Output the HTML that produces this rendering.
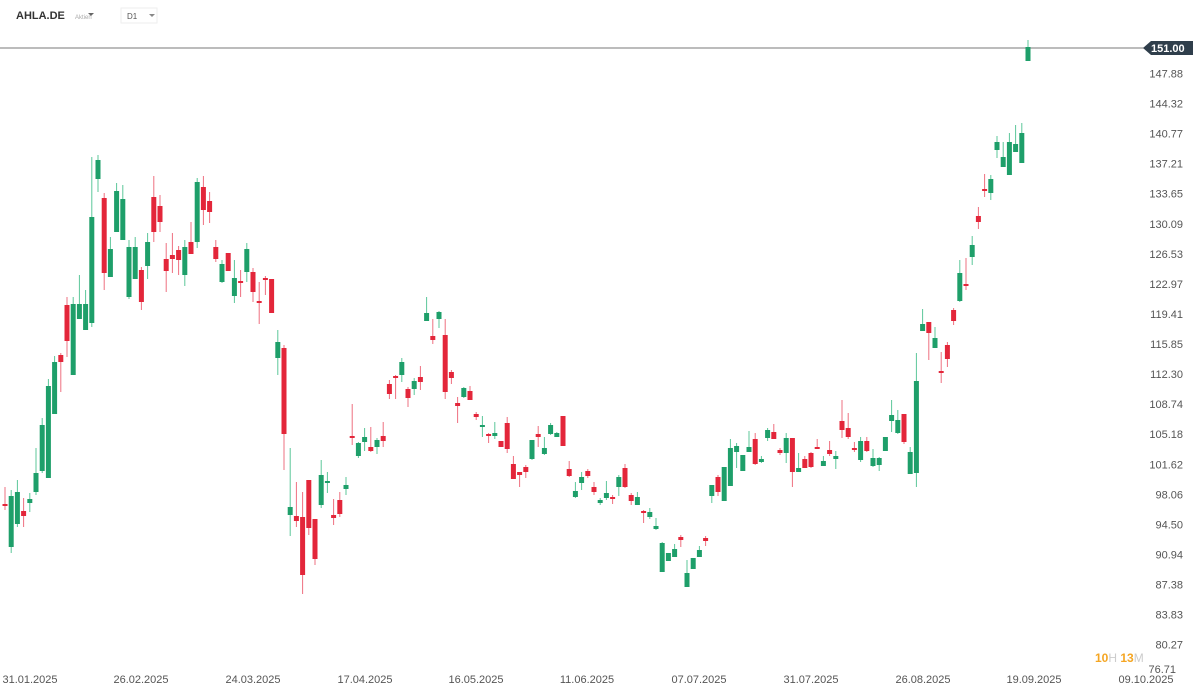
<!DOCTYPE html>
<html><head><meta charset="utf-8"><style>
body{margin:0;width:1199px;height:693px;background:#fff;overflow:hidden;font-family:"Liberation Sans",sans-serif}
svg{position:absolute;left:0;top:0}
</style></head><body>
<svg id="s" width="1199" height="693" xmlns="http://www.w3.org/2000/svg">
<text x="16" y="19" font-size="11" font-weight="bold" fill="#333">AHLA.DE</text>
<text x="75" y="19" font-size="6" fill="#aaa">Aktien</text>
<path d="M88 13l3 3 3-3z" fill="#666"/>
<rect x="121" y="8" width="36" height="15" fill="#fff" stroke="#eee"/>
<text x="127" y="19" font-size="8" fill="#555">D1</text>
<path d="M149 14l3 3 3-3z" fill="#888"/>
<line x1="0" y1="48" x2="1145" y2="48" stroke="#7a7a7a" stroke-width="1"/>
<g id="c"></g>
<path d="M1143 48l8-7h42v14h-42z" fill="#2f3e4b"/>
<text x="1151" y="52" font-size="11" fill="#fff" font-weight="bold">151.00</text>
<g font-size="11" fill="#555" text-anchor="end" id="yl"></g>
<g font-size="11" fill="#555" text-anchor="middle" id="xl"></g>
<text x="1095" y="662" font-size="12" font-weight="bold" fill="#f5a623">10<tspan fill="#ccc" font-weight="normal">H</tspan> 13<tspan fill="#ccc" font-weight="normal">M</tspan></text>
</svg>
<script>
var d=[
[0,504,506,487,510],[1,496,547,490,553,1],[1,492,524,480,527,1],[0,511,516,498,527],[1,499,503,493,512,1],[1,473,492,448,495,1],[1,425,471,418,473,1],[1,386,478,379,478,1],[1,362,414,356,414,1],[0,355,362,353,392],
[0,305,341,297,357],[1,304,375,297,375,1],[1,304,319,275,319,1],[1,304,330,290,330,1],[1,217,323,157,327,1],[1,160,179,155,192,1],[0,198,273,193,290],[1,249,277,237,277,1],[1,191,232,183,232,1],[1,199,240,185,240,1],
[1,247,297,240,299,1],[1,247,279,237,279,1],[0,270,302,267,310],[1,242,266,233,279,1],[0,197,232,176,242],[0,206,222,195,232],[0,259,271,243,292],[0,255,259,233,273],[0,250,260,246,275],[1,247,275,240,286,1],
[0,242,254,222,254],[1,182,242,178,248,1],[0,187,210,176,225],[0,201,212,192,223],[0,247,259,240,262],[1,264,282,260,283,1],[0,253,271,253,271],[1,278,296,260,303,1],[0,281,283,270,297],[1,249,272,243,282,1],
[0,272,292,268,302],[0,301,303,282,324],[0,278,279,276,295],[0,279,313,279,313],[1,342,358,330,375,1],[0,348,434,345,470],[1,507,515,448,536,1],[0,516,521,482,527],[0,517,575,492,594],[0,480,528,480,535],
[0,519,559,519,565],[1,475,505,460,508,1],[1,481,482,472,493,1],[0,515,518,499,525],[0,500,514,492,517],[1,485,489,477,495,1],[0,436,438,404,445],[1,443,456,442,458,1],[1,437,442,428,451,1],[0,447,451,427,452],
[1,440,447,438,454,1],[0,436,441,422,447],[0,384,394,380,399],[0,376,378,375,399],[1,362,375,358,382,1],[0,389,398,387,407],[1,381,389,378,395,1],[0,377,382,366,390],[1,313,321,297,321,1],[0,336,340,319,344],
[1,312,319,311,328,1],[0,335,392,319,399],[0,372,378,370,384],[0,403,406,397,423],[1,388,397,387,398,1],[0,391,400,386,400],[0,414,417,412,420],[1,425,427,416,437,1],[0,434,436,433,443],[1,433,436,422,439,1],
[0,441,447,441,447],[0,423,449,417,453],[0,464,479,456,479],[0,472,475,472,487],[0,467,472,465,478],[1,440,459,440,460,1],[0,434,437,426,447],[1,448,454,437,455,1],[1,425,434,423,435,1],[1,433,437,432,437,1],
[0,416,446,416,446],[0,469,476,461,477],[1,491,497,482,498,1],[1,477,483,472,490,1],[0,471,476,469,478],[0,487,492,482,495],[1,500,503,498,505,1],[1,493,498,481,500,1],[0,497,499,495,504],[1,477,487,475,496,1],
[0,468,487,464,488],[0,495,501,493,505],[1,497,505,492,505,1],[0,511,513,510,523],[1,512,517,508,519,1],[1,526,529,518,530,1],[1,543,572,542,572,1],[1,553,561,553,561,1],[1,549,557,544,557,1],[0,537,540,535,547],
[1,573,587,560,587,1],[1,558,569,558,569,1],[1,550,557,546,557,1],[0,538,541,536,546],[1,485,496,485,503,1],[0,477,492,475,496],[1,467,501,467,501,1],[1,448,486,439,486,1],[1,446,452,443,468,1],[1,455,471,455,471,1],
[1,447,452,431,452,1],[0,439,464,433,465],[1,459,462,456,463,1],[1,430,438,428,441,1],[0,432,439,424,439],[0,450,453,448,455],[1,438,453,433,463,1],[0,438,472,438,487],[1,468,472,453,472,1],[0,459,468,456,468],
[0,453,467,452,468],[0,447,449,439,449],[1,461,466,456,466,1],[0,450,454,441,456],[1,456,459,451,469,1],[0,421,430,400,438],[0,428,437,413,439],[0,448,450,442,452],[1,441,460,437,462,1],[0,441,451,437,452],
[1,458,466,449,467,1],[1,458,465,457,471,1],[1,437,451,437,451,1],[1,415,421,400,432,1],[1,420,433,410,434,1],[0,414,442,414,444],[1,452,474,447,474,1],[1,381,473,353,487,1],[1,324,331,309,331,1],[0,322,333,322,360],
[1,338,348,327,348,1],[0,371,373,352,383],[0,345,359,342,367],[0,310,321,308,325],[1,273,301,260,302,1],[0,284,286,258,290],[1,245,257,236,265,1],[0,216,222,207,229],[0,189,191,174,197],[1,179,193,175,200,1],
[1,142,150,136,158,1],[1,157,167,142,167,1],[1,142,175,133,175,1],[1,144,152,125,152,1],[1,133,163,123,163,1],[1,47,61,40,61,1]];
var h='';
d.forEach(function(c,i){var x=5+6.2*i;var col=c[0]?'#1e9f6a':'#e3263a';var wc=c[0]?'#5cc79a':'#ee7080';
h+='<line x1="'+x.toFixed(1)+'" x2="'+x.toFixed(1)+'" y1="'+c[3]+'" y2="'+c[4]+'" stroke="'+wc+'" stroke-width="1"/>';
var bh=Math.max(c[2]-c[1],2);h+='<rect x="'+(x-2.5).toFixed(1)+'" y="'+c[1]+'" width="5" height="'+bh+'" fill="'+col+'"/>';});
document.getElementById('c').innerHTML=h;
var ys=['147.88','144.32','140.77','137.21','133.65','130.09','126.53','122.97','119.41','115.85','112.30','108.74','105.18','101.62','98.06','94.50','90.94','87.38','83.83','80.27'];
var t='';ys.forEach(function(v,i){t+='<text x="1183" y="'+(77.5+30.06*i).toFixed(1)+'">'+v+'</text>';});
t+='<text x="1176" y="673">76.71</text>';document.getElementById('yl').innerHTML=t;
var ds=['31.01.2025','26.02.2025','24.03.2025','17.04.2025','16.05.2025','11.06.2025','07.07.2025','31.07.2025','26.08.2025','19.09.2025','09.10.2025'];
var xs=[30,141,253,365,476,587,699,811,923,1034,1146];t='';
ds.forEach(function(v,i){t+='<text x="'+xs[i]+'" y="683">'+v+'</text>';});document.getElementById('xl').innerHTML=t;
</script>
</body></html>
